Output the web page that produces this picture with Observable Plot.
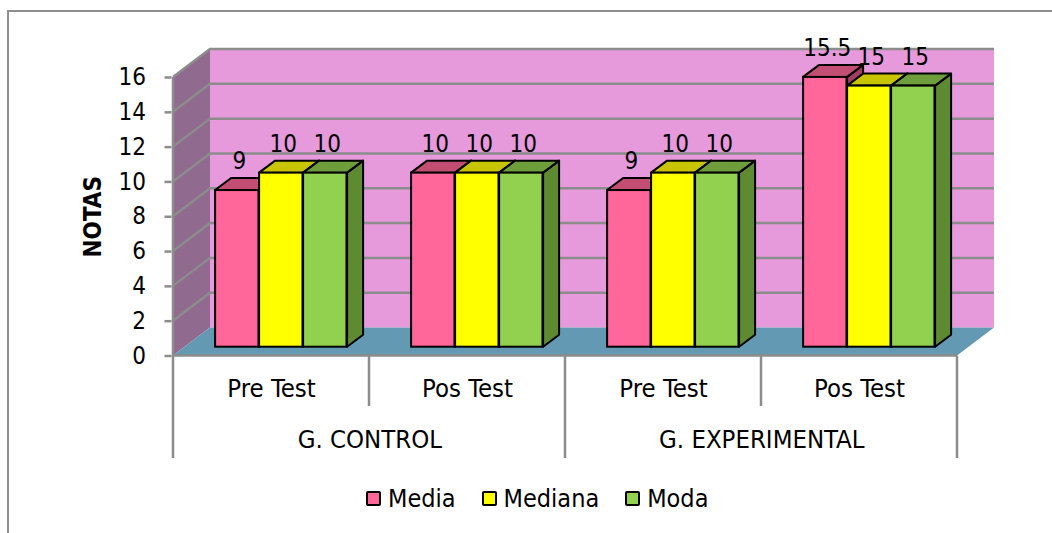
<!DOCTYPE html>
<html>
<head>
<meta charset="utf-8">
<script src="https://cdn.jsdelivr.net/npm/d3@7"></script>
<script src="https://cdn.jsdelivr.net/npm/@observablehq/plot@0.6"></script>
<style>
  html, body { margin: 0; padding: 0; background: #fff; }
  body { width: 1052px; height: 533px; position: relative; overflow: hidden;
         font-family: "DejaVu Sans Condensed", "DejaVu Sans", sans-serif; }
  #frame { position: absolute; left: 7px; top: 10px; width: 1100px; height: 600px;
           border: 2px solid #8f8f8f; }
  #chart { position: absolute; left: 0; top: 0; }
  #legend { position: absolute; left: 366px; top: 484px; display: flex; align-items: center;
            font-size: 25px; color: #000; white-space: nowrap; }
  .item { display: flex; align-items: center; margin-right: 26px; }
  .sw { width: 11px; height: 11px; border: 2.5px solid #000; border-radius: 2px; margin-right: 7px; }
</style>
</head>
<body>
<div id="frame"></div>
<div id="chart"></div>
<div id="legend"></div>
<script>
// ---- data ----
const groups = ["G. CONTROL", "G. CONTROL", "G. EXPERIMENTAL", "G. EXPERIMENTAL"];
const tests = ["Pre Test", "Pos Test", "Pre Test", "Pos Test"];
const seriesNames = ["Media", "Mediana", "Moda"];
const media = [9, 10, 9, 15.5];
const mediana = [10, 10, 10, 15];
const moda = [10, 10, 10, 15];
const yTicks = [0, 2, 4, 6, 8, 10, 12, 14, 16];

// ---- style / layout ----
const frontColors = ["#FF6699", "#FFFF00", "#92D050"];
const topColors = ["#C24F73", "#C8C400", "#6E9E3C"];
const sideColors = ["#A33D62", "#A8A400", "#5E8A32"];
const seriesValues = [media, mediana, moda];
const keys = groups.map((g, i) => g + "|" + tests[i]);

const W = 1052, H = 470;
const ML = 171.5, MR = 94, MT = 77, Y0 = 355.5, MB = H - Y0;
const DX = 37, DY = -28;        // wall depth
const PX = 11.6, PY = -8.8;     // bar plane offset
const BX = 16, BY = -12;        // bar depth
const BW = 44, BO = 30.5;       // bar width and offset inside band
const grid = "#8c8c8c";
const FONT = '"DejaVu Sans Condensed", "DejaVu Sans", sans-serif';

function poly(g, pts, fill) {
  return g.append("polygon").attr("points", pts.map(p => p.join(",")).join(" ")).attr("fill", fill);
}

function decor(index, scales) {
  const x = scales.x, y = scales.y;
  const bw = x.bandwidth();
  const xl = x(keys[0]), xr = x(keys[keys.length - 1]) + bw;
  const ymax = yTicks[yTicks.length - 1];
  const g = d3.create("svg:g");
  poly(g, [[xl + DX, y(ymax) + DY], [xr + DX, y(ymax) + DY], [xr + DX, y(0) + DY], [xl + DX, y(0) + DY]], "#E69ADB");
  poly(g, [[xl, y(0)], [xl, y(ymax)], [xl + DX, y(ymax) + DY], [xl + DX, y(0) + DY]], "#916A8F");
  poly(g, [[xl, y(0)], [xr, y(0)], [xr + DX, y(0) + DY], [xl + DX, y(0) + DY]], "#6399B3");
  for (const t of yTicks) {
    if (t === 0) continue;
    g.append("path").attr("d", `M${xl},${y(t)}L${xl + DX},${y(t) + DY}L${xr + DX},${y(t) + DY}`)
      .attr("fill", "none").attr("stroke", grid).attr("stroke-width", 2.5);
  }
  // axis line, floor front edge, category separators
  const s = g.append("g").attr("stroke", grid).attr("stroke-width", 2.5).attr("fill", "none");
  s.append("path").attr("d", `M${xl},${y(ymax)}L${xl},${y(0)}L${xr},${y(0)}`);
  keys.forEach((k, i) => {
    const long = i === 0 || groups[i] !== groups[i - 1];
    s.append("path").attr("d", `M${x(k)},${y(0)}V${y(0) + (long ? 102.5 : 50.5)}`);
  });
  s.append("path").attr("d", `M${xr},${y(0)}V${y(0) + 102.5}`);
  return g.node();
}

function boxes(j) {
  return (index, scales) => {
    const x = scales.x, y = scales.y;
    const vals = seriesValues[j];
    const g = d3.create("svg:g").attr("stroke", "#000").attr("stroke-width", 2).attr("stroke-linejoin", "round");
    keys.forEach((k, i) => {
      const x1 = x(k) + PX + BO + j * BW, x2 = x1 + BW;
      const yt = y(vals[i]) + PY, yb = y(0) + PY;
      poly(g, [[x2, yb], [x2, yt], [x2 + BX, yt + BY], [x2 + BX, yb + BY]], sideColors[j]);
      poly(g, [[x1, yt], [x2, yt], [x2 + BX, yt + BY], [x1 + BX, yt + BY]], topColors[j]);
    });
    return g.node();
  };
}

const bandW = (W - ML - MR) / keys.length;
const marks = [decor];
seriesValues.forEach((vals, j) => {
  marks.push(boxes(j));
  marks.push(Plot.barY(vals, {
    x: keys, y: vals, fill: frontColors[j], stroke: "#000", strokeWidth: 2,
    insetLeft: BO + j * BW, insetRight: bandW - BO - (j + 1) * BW, dx: PX, dy: PY
  }));
});
seriesValues.forEach((vals, j) => {
  marks.push(Plot.text(vals, {
    x: keys, y: vals, text: vals.map(v => String(v)), fontSize: 24, fill: "#000",
    lineAnchor: "middle", dx: PX + BO + j * BW + BW / 2 + 2 - bandW / 2, dy: PY - 29
  }));
});
marks.push(Plot.axisY({ ticks: yTicks, tickSize: 7, tickPadding: 19, stroke: grid, strokeWidth: 2.5,
  fill: "#000", fontSize: 24, label: null }));
marks.push(Plot.text(tests, { x: keys, frameAnchor: "bottom", dy: 33, fontSize: 25.5, fill: "#000", lineAnchor: "middle" }));
const groupStarts = groups.map((g, i) => i).filter(i => i === 0 || groups[i] !== groups[i - 1]);
marks.push(Plot.text(groupStarts, { x: i => keys[i], text: i => groups[i], frameAnchor: "bottom",
  dx: bandW / 2, dy: 84, fontSize: 25.5, fill: "#000", lineAnchor: "middle" }));
marks.push(Plot.text(["NOTAS"], { frameAnchor: "left", dx: -78.5, rotate: -90, fontSize: 24,
  fontWeight: "bold", fill: "#000", textAnchor: "middle", lineAnchor: "middle" }));

const chart = Plot.plot({
  width: W, height: H,
  marginLeft: ML, marginRight: MR, marginTop: MT, marginBottom: MB,
  style: { fontFamily: FONT, fontSize: "24px", background: "transparent", color: "#000" },
  x: { domain: keys, padding: 0, axis: null },
  y: { domain: [0, yTicks[yTicks.length - 1]], axis: null },
  marks
});
document.getElementById("chart").appendChild(chart);

const legend = document.getElementById("legend");
seriesNames.forEach((name, j) => {
  const it = document.createElement("div");
  it.className = "item";
  const sw = document.createElement("div");
  sw.className = "sw";
  sw.style.background = frontColors[j];
  const t = document.createElement("span");
  t.textContent = name;
  it.appendChild(sw); it.appendChild(t);
  legend.appendChild(it);
});
</script>
</body>
</html>
